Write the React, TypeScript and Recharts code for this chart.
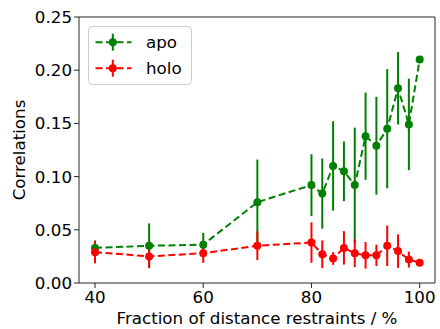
import React from 'react';
import { LineChart, Line, XAxis, YAxis, ErrorBar, ReferenceLine } from 'recharts';

const fractions = [40, 50, 60, 70, 80, 82, 84, 86, 88, 90, 92, 94, 96, 98, 100];
const apoValues = [0.033, 0.035, 0.036, 0.076, 0.092, 0.084, 0.110, 0.105, 0.092, 0.138, 0.129, 0.145, 0.183, 0.149, 0.210];
const apoErrors = [0.007, 0.021, 0.011, 0.040, 0.029, 0.033, 0.042, 0.028, 0.054, 0.041, 0.046, 0.056, 0.034, 0.043, 0];
const holoValues = [0.029, 0.025, 0.028, 0.035, 0.038, 0.027, 0.023, 0.033, 0.028, 0.026, 0.026, 0.035, 0.030, 0.022, 0.019];
const holoErrors = [0.0105, 0.011, 0.009, 0.0135, 0.019, 0.013, 0.006, 0.0157, 0.013, 0.0125, 0.010, 0.019, 0.0157, 0.0075, 0];
const xTicks = [40, 60, 80, 100];
const yTicks = [0, 0.05, 0.1, 0.15, 0.2, 0.25];
const xDomain: [number, number] = [37.04, 102.83];
const yDomain: [number, number] = [0, 0.25];
const seriesNames = ['apo', 'holo'];
const seriesColors = ['#008000', '#ff0000'];

const data = fractions.map((f, i) => ({
  x: f,
  apo: apoValues[i],
  apoErr: apoErrors[i],
  holo: holoValues[i],
  holoErr: holoErrors[i],
}));

const FONT = 'DejaVu Sans';
const FS = 16.7;
const AX = '#262626';

const tickStyle = { fontFamily: FONT, fontSize: FS, fill: '#000' };

function LegendBox() {
  return (
    <svg
      width={104}
      height={60}
      style={{ position: 'absolute', left: 87.5, top: 25.5, overflow: 'visible' }}
    >
      <rect x={0.5} y={0.5} width={103} height={58} rx={4} ry={4} fill="rgba(255,255,255,0.8)" stroke="#cccccc" strokeWidth={1} />
      {seriesNames.map((name, i) => {
        const cy = 16.2 + i * 26;
        const c = seriesColors[i];
        return (
          <g key={name}>
            <line x1={7.5} x2={43.5} y1={cy} y2={cy} stroke={c} strokeWidth={2} strokeDasharray="7 3.5" />
            <line x1={24.8} x2={24.8} y1={cy - 8.5} y2={cy + 8.5} stroke={c} strokeWidth={2} />
            <circle cx={24.8} cy={cy} r={4} fill={c} />
            <text x={58} y={cy + 6.2} fontFamily={FONT} fontSize={FS} fill="#000">
              {name}
            </text>
          </g>
        );
      })}
    </svg>
  );
}

export default function App() {
  return (
    <div style={{ position: 'absolute', left: 0, top: 0, width: 440, height: 329, background: '#fff' }}>
      <LineChart
        width={440}
        height={329}
        data={data}
        margin={{ top: 17, right: 5, bottom: 0, left: 0 }}
      >
        <XAxis
          dataKey="x"
          type="number"
          domain={xDomain}
          ticks={xTicks}
          allowDataOverflow
          height={46}
          tick={tickStyle}
          tickSize={5}
          tickMargin={3}
          stroke={AX}
          tickLine={{ stroke: AX }}
          label={{
            content: (props: any) => {
              const vb = props.viewBox;
              return (
                <text x={vb.x + vb.width / 2} y={vb.y + 41} textAnchor="middle" fontFamily={FONT} fontSize={FS} fill="#000">
                  Fraction of distance restraints / %
                </text>
              );
            },
          }}
        />
        <YAxis
          type="number"
          domain={yDomain}
          ticks={yTicks}
          allowDataOverflow
          width={79}
          tick={tickStyle}
          tickSize={5}
          tickMargin={2}
          tickFormatter={(v: number) => v.toFixed(2)}
          stroke={AX}
          tickLine={{ stroke: AX }}
          label={{
            content: (props: any) => {
              const vb = props.viewBox;
              const cx = 25;
              const cy = vb.y + vb.height / 2;
              return (
                <text x={cx} y={cy} textAnchor="middle" transform={`rotate(-90 ${cx} ${cy})`} fontFamily={FONT} fontSize={FS} fill="#000">
                  Correlations
                </text>
              );
            },
          }}
        />
        <ReferenceLine y={yDomain[1]} stroke={AX} strokeWidth={1} />
        <ReferenceLine x={xDomain[1]} stroke={AX} strokeWidth={1} />
        <Line
          dataKey="apo"
          name={seriesNames[0]}
          stroke={seriesColors[0]}
          strokeWidth={2}
          strokeDasharray="7 3.5"
          dot={{ r: 4, fill: seriesColors[0], stroke: seriesColors[0], strokeWidth: 0, strokeDasharray: '' }}
          activeDot={false}
          isAnimationActive={false}
        >
          <ErrorBar dataKey="apoErr" direction="y" width={0} stroke={seriesColors[0]} strokeWidth={2} />
        </Line>
        <Line
          dataKey="holo"
          name={seriesNames[1]}
          stroke={seriesColors[1]}
          strokeWidth={2}
          strokeDasharray="7 3.5"
          dot={{ r: 4, fill: seriesColors[1], stroke: seriesColors[1], strokeWidth: 0, strokeDasharray: '' }}
          activeDot={false}
          isAnimationActive={false}
        >
          <ErrorBar dataKey="holoErr" direction="y" width={0} stroke={seriesColors[1]} strokeWidth={2} />
        </Line>
      </LineChart>
      <LegendBox />
    </div>
  );
}
